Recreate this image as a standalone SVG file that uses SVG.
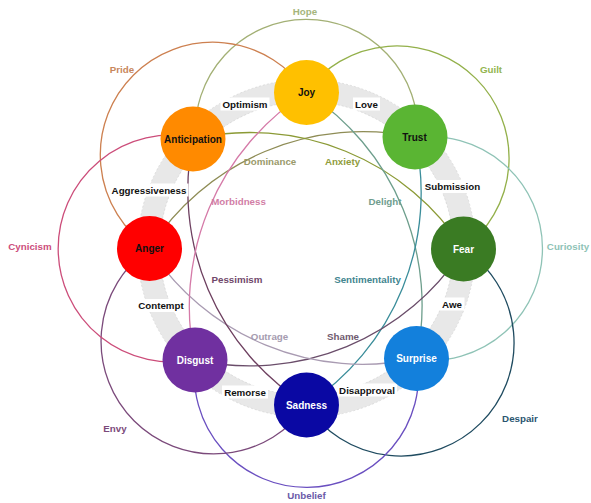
<svg xmlns="http://www.w3.org/2000/svg" width="591" height="503" viewBox="0 0 591 503">
<style>
text{font-family:"Liberation Sans",Arial,sans-serif;font-weight:bold;font-size:9.75px;text-anchor:middle}
.arc{fill:none;stroke-width:1.3}
.node text{font-size:10px}
.dk{fill:#111}
.wt{fill:#fff}
.bg{fill:#fff}
.edge{fill:none;stroke:#c9c9c9;stroke-width:0.5;stroke-dasharray:2 2}
</style>
<rect width="591" height="503" fill="#fff"/>
<g id="band">
<path d="M475.5,248.5 A169,169 0 1,0 137.5,248.5 A169,169 0 1,0 475.5,248.5 Z M453.5,248.5 A147,147 0 1,0 159.5,248.5 A147,147 0 1,0 453.5,248.5 Z" fill="#e8e8e8" fill-rule="evenodd"/>
<circle class="edge" cx="306.5" cy="248.5" r="169"/>
<circle class="edge" cx="306.5" cy="248.5" r="147"/>
</g>
<g id="connectors">
<path class="arc" stroke="#a3b075" d="M195.6,138.8 A111.2,111.2 0 1 1 417.5,137.1"/>
<path class="arc" stroke="#cd8050" d="M149.8,248.1 A112.6,112.6 0 1 1 306.6,92.4"/>
<path class="arc" stroke="#93b04a" d="M306.0,92.1 A112.3,112.3 0 1 1 463.3,248.7"/>
<path class="arc" stroke="#8fc3b6" d="M415.1,137.8 A111.8,111.8 0 1 1 416.4,359.4"/>
<path class="arc" stroke="#1f4b60" d="M463.7,248.7 A113.2,113.2 0 1 1 306.3,405.1"/>
<path class="arc" stroke="#6a4fc0" d="M417.3,358.4 A112.1,112.1 0 1 1 195.4,360.1"/>
<path class="arc" stroke="#7b4a7b" d="M306.7,405.2 A112.8,112.8 0 1 1 149.5,248.5"/>
<path class="arc" stroke="#cc4d7a" d="M194.9,359.6 A113.5,113.5 0 1 1 193.4,137.1"/>
<path class="arc" stroke="#8e8c55" d="M149.5,248.5 A254,254 0 0 1 415,137"/>
<path class="arc" stroke="#8b9a35" d="M193,139 A254,254 0 0 1 463.5,249"/>
<path class="arc" stroke="#6d9e8c" d="M306.5,92.5 A254,254 0 0 1 416.5,358.5"/>
<path class="arc" stroke="#3a8d9a" d="M415,137 A254,254 0 0 1 306.5,405"/>
<path class="arc" stroke="#6a4d6a" d="M463.5,249 A254,254 0 0 1 195,360"/>
<path class="arc" stroke="#a99bb2" d="M416.5,358.5 A254,254 0 0 1 149.5,248.5"/>
<path class="arc" stroke="#6d3f5f" d="M306.5,405 A254,254 0 0 1 193,139"/>
<path class="arc" stroke="#d57aa8" d="M195,360 A254,254 0 0 1 306.5,92.5"/>
</g>
<g id="dyad-labels">
<text x="305" y="15" fill="#a5b57c">Hope</text>
<text x="122" y="73" fill="#c8875c">Pride</text>
<text x="491" y="73" fill="#93b54f">Guilt</text>
<text x="30" y="250" fill="#cc4d7a">Cynicism</text>
<text x="568" y="250" fill="#8fc3b6">Curiosity</text>
<text x="520" y="422" fill="#2a5570">Despair</text>
<text x="306.5" y="499" fill="#6a5aa8">Unbelief</text>
<text x="115" y="432" fill="#7b4a7b">Envy</text>
<text x="270" y="164.5" fill="#9a9a6a">Dominance</text>
<text x="342.5" y="164.5" fill="#8f9c3c">Anxiety</text>
<text x="238.5" y="205" fill="#d27ea6">Morbidness</text>
<text x="385" y="205" fill="#6f9d8e">Delight</text>
<text x="237" y="283" fill="#70476a">Pessimism</text>
<text x="367.5" y="283" fill="#41858f">Sentimentality</text>
<text x="269.5" y="340" fill="#a69cb0">Outrage</text>
<text x="343" y="340" fill="#6f5a6f">Shame</text>
</g>
<g id="primary-dyads">
<rect class="bg" x="220.5" y="97.5" width="49" height="13"/>
<text class="dk" x="245" y="107.5">Optimism</text>
<rect class="bg" x="353" y="97.5" width="27" height="13"/>
<text class="dk" x="366.5" y="107.5">Love</text>
<rect class="bg" x="422.5" y="180" width="60" height="13"/>
<text class="dk" x="452.5" y="190">Submission</text>
<rect class="bg" x="109.5" y="183.5" width="79" height="13"/>
<text class="dk" x="149" y="193.5">Aggressiveness</text>
<rect class="bg" x="136" y="299" width="50" height="13"/>
<text class="dk" x="161" y="309">Contempt</text>
<rect class="bg" x="439.5" y="297.5" width="25" height="13"/>
<text class="dk" x="452" y="307.5">Awe</text>
<rect class="bg" x="222" y="385.5" width="46" height="13"/>
<text class="dk" x="245" y="395.5">Remorse</text>
<rect class="bg" x="337" y="383.5" width="60" height="13"/>
<text class="dk" x="367" y="393.5">Disapproval</text>
</g>
<g id="joy" class="node"><circle cx="306.5" cy="92.5" r="32.5" fill="#ffc000"/><text class="dk" x="306.5" y="96">Joy</text></g>
<g id="trust" class="node"><circle cx="415" cy="137" r="32.5" fill="#5ab533"/><text class="dk" x="414.5" y="140.5">Trust</text></g>
<g id="fear" class="node"><circle cx="463.5" cy="249" r="32.5" fill="#3a7b23"/><text class="wt" x="463.5" y="252.5">Fear</text></g>
<g id="surprise" class="node"><circle cx="416.5" cy="358.5" r="32.5" fill="#1380dc"/><text class="wt" x="416.5" y="362">Surprise</text></g>
<g id="sadness" class="node"><circle cx="306.5" cy="405" r="32.5" fill="#0a08a3"/><text class="wt" x="306.5" y="409">Sadness</text></g>
<g id="disgust" class="node"><circle cx="195" cy="360" r="32.5" fill="#7030a0"/><text class="wt" x="195" y="364">Disgust</text></g>
<g id="anger" class="node"><circle cx="149.5" cy="248.5" r="32.5" fill="#ff0000"/><text class="dk" x="149.5" y="252">Anger</text></g>
<g id="anticipation" class="node"><circle cx="193" cy="139" r="32.5" fill="#ff8a00"/><text class="dk" x="193" y="142.5">Anticipation</text></g>
</svg>
